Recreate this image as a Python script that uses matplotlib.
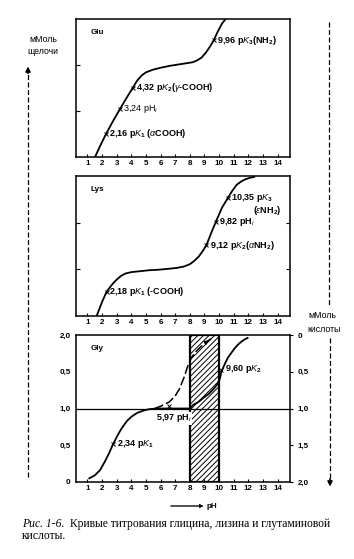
import matplotlib
matplotlib.use("Agg")
import matplotlib.pyplot as plt
from matplotlib.lines import Line2D
from matplotlib.patches import Rectangle

# values (pH on x, equivalents on y)
ph_ticks = list(range(1, 15))

glu_ph = [1.52, 1.9, 2.27, 2.75, 3.22, 3.65, 4.11, 4.4, 4.7, 5.0, 5.5, 6.0, 6.6, 7.2, 7.8,
          8.2, 8.5, 8.8, 9.1, 9.4, 9.64, 9.9, 10.2, 10.45]
glu_eq = [0.0, 0.26, 0.5, 0.78, 1.04, 1.27, 1.51, 1.66, 1.77, 1.84, 1.90, 1.94, 1.98, 2.01, 2.04,
          2.06, 2.10, 2.16, 2.27, 2.41, 2.54, 2.72, 2.90, 3.0]
glu_marks = [(2.27, 0.5), (3.22, 1.04), (4.11, 1.51), (9.64, 2.54)]

lys_ph = [1.63, 2.0, 2.31, 2.7, 3.0, 3.3, 3.6, 4.0, 4.6, 5.2, 5.8, 6.5, 7.1, 7.6, 8.0, 8.3,
          8.6, 8.9, 9.14, 9.45, 9.77, 10.2, 10.6, 10.9, 11.2, 11.5, 11.8, 12.1, 12.4]
lys_eq = [0.0, 0.3, 0.52, 0.68, 0.78, 0.86, 0.91, 0.94, 0.96, 0.98, 0.99, 1.01, 1.03, 1.06,
          1.11, 1.18, 1.27, 1.40, 1.52, 1.77, 2.01, 2.32, 2.53, 2.68, 2.81, 2.88, 2.93, 2.96, 2.98]
lys_marks = [(2.31, 0.52), (9.14, 1.52), (9.77, 2.01), (10.6, 2.53)]

gly_low_ph = [1.13, 1.5, 1.86, 2.2, 2.5, 2.77, 3.05, 3.34, 3.7, 4.02, 4.4, 4.81, 5.2, 5.72, 8.0]
gly_low_eq = [0.05, 0.09, 0.16, 0.28, 0.40, 0.52, 0.63, 0.73, 0.83, 0.89, 0.94, 0.97, 0.99, 1.0, 1.0]
gly_up_ph = [8.0, 8.23, 8.6, 8.9, 9.3, 9.6, 9.85, 10.05, 10.16, 10.4, 10.6, 10.85, 11.07, 11.3,
             11.53, 11.75, 11.95]
gly_up_eq = [1.0, 1.05, 1.09, 1.14, 1.20, 1.26, 1.32, 1.40, 1.50, 1.61, 1.69, 1.76, 1.82, 1.87,
             1.91, 1.94, 1.96]
gly_back_ph = [5.6, 6.0, 6.6, 7.0, 7.3, 7.6, 7.85, 8.1, 8.4, 8.7, 9.1, 9.45]
gly_back_eq = [1.0, 1.03, 1.09, 1.17, 1.27, 1.42, 1.57, 1.69, 1.77, 1.83, 1.90, 1.95]
gly_marks = [(2.77, 0.52), (10.16, 1.52), (6.6, 1.03)]
gly_left_labels = ["0", "0,5", "1,0", "0,5", "2,0"]
gly_right_labels = ["2,0", "1,5", "1,0", "0,5", "0"]
gly_levels = [0, 0.5, 1.0, 1.5, 2.0]
band = (8, 10)

plt.rcParams["font.family"] = ["Liberation Sans", "DejaVu Sans"]
plt.rcParams["mathtext.fontset"] = "custom"
plt.rcParams["mathtext.rm"] = "Liberation Sans:bold"
plt.rcParams["mathtext.it"] = "Liberation Sans:italic"
plt.rcParams["mathtext.bf"] = "Liberation Sans:bold"
plt.rcParams["hatch.linewidth"] = 0.7

W, H = 354, 559
fig = plt.figure(figsize=(W / 100, H / 100), dpi=100)


def px(x0, y0, x1, y1):
    return [x0 / W, 1 - y1 / H, (x1 - x0) / W, (y1 - y0) / H]


def fx(x):
    return x / W


def fy(y):
    return 1 - y / H


def setup(ax, ymax):
    ax.set_xlim(0.22, 14.85)
    ax.set_ylim(0, ymax)
    for s in ax.spines.values():
        s.set_linewidth(1.1)
    ax.set_xticks(ph_ticks)
    ax.set_xticklabels([str(t) for t in ph_ticks], fontsize=5.8, fontweight="bold")
    ax.tick_params(axis="x", direction="in", length=2.5, width=0.8, pad=2)
    ax.tick_params(axis="y", direction="in", length=3, width=0.8)


curve = dict(color="black", lw=1.3)
mk = dict(marker="x", ls="none", color="black", ms=2.5, mew=0.7)
fs = 6.5

# Glu
ax1 = fig.add_axes(px(76, 19, 290, 157))
setup(ax1, 3)
ax1.set_yticks([1, 2])
ax1.set_yticklabels([])
ax1.plot(glu_ph, glu_eq, **curve)
ax1.plot(*zip(*glu_marks), **mk)
ax1.text(0.07, 0.93, "Glu", transform=ax1.transAxes, fontsize=5.8, fontweight="bold", va="top")
ax1.text(9.85, 2.54, r"9,96 p$\mathit{K}_3$(NH$_2$)", fontsize=fs, fontweight="bold", va="center")
ax1.text(4.35, 1.51, r"4,32 p$\mathit{K}_2$($\gamma$-COOH)", fontsize=fs, fontweight="bold", va="center")
ax1.text(3.45, 1.04, r"3,24 pH$_i$", fontsize=fs, va="center")
ax1.text(2.5, 0.5, r"2,16 p$\mathit{K}_1$ ($\alpha$COOH)", fontsize=fs, fontweight="bold", va="center")

# Lys
ax2 = fig.add_axes(px(76, 176, 290, 316))
setup(ax2, 3)
ax2.set_yticks([1, 2])
ax2.set_yticklabels([])
ax2.tick_params(axis="y", right=True)
ax2.plot(lys_ph, lys_eq, **curve)
ax2.plot(*zip(*lys_marks), **mk)
ax2.text(0.07, 0.93, "Lys", transform=ax2.transAxes, fontsize=5.8, fontweight="bold", va="top")
ax2.text(10.8, 2.53, r"10,35 p$\mathit{K}_3$", fontsize=fs, fontweight="bold", va="center")
ax2.text(12.3, 2.27, r"($\epsilon$NH$_2$)", fontsize=fs, fontweight="bold", va="center")
ax2.text(10.0, 2.01, r"9,82 pH$_i$", fontsize=fs, fontweight="bold", va="center")
ax2.text(9.35, 1.52, r"9,12 p$\mathit{K}_2$($\alpha$NH$_2$)", fontsize=fs, fontweight="bold", va="center")
ax2.text(2.5, 0.52, r"2,18 p$\mathit{K}_1$ (-COOH)", fontsize=fs, fontweight="bold", va="center")

# Gly
ax3 = fig.add_axes(px(76, 335, 290, 482))
setup(ax3, 2)
ax3.set_yticks(gly_levels)
ax3.set_yticklabels(gly_left_labels, fontsize=5.8, fontweight="bold")
ax3.tick_params(axis="y", length=0, pad=4)
ax3r = ax3.twinx()
ax3r.set_ylim(0, 2)
ax3r.set_yticks(gly_levels)
ax3r.set_yticklabels(gly_right_labels, fontsize=5.8, fontweight="bold")
ax3r.tick_params(axis="y", direction="out", length=2.5, width=0.8, pad=3)
for s in ax3r.spines.values():
    s.set_visible(False)
ax3.add_patch(Rectangle((band[0], 0), band[1] - band[0], 2, fill=False, hatch="//////",
                        lw=1.6, edgecolor="black"))
ax3.axhline(1.0, color="black", lw=0.9)
ax3.plot(gly_low_ph, gly_low_eq, **curve)
ax3.plot(gly_up_ph, gly_up_eq, **curve)
ax3.plot(gly_back_ph, gly_back_eq, color="black", lw=1.1, ls=(0, (6, 2)))
ax3.annotate("", xy=(gly_back_ph[-1], gly_back_eq[-1]), xytext=(gly_back_ph[-2], gly_back_eq[-2]),
             arrowprops=dict(arrowstyle="-|>", color="black", lw=0.8, mutation_scale=6))
ax3.plot(*zip(*gly_marks), **mk)
ax3.text(0.07, 0.93, "Gly", transform=ax3.transAxes, fontsize=5.8, fontweight="bold", va="top")
ax3.text(3.0, 0.52, r"2,34 p$\mathit{K}_1$", fontsize=fs, fontweight="bold", va="center")
ax3.text(10.4, 1.54, r"9,60 p$\mathit{K}_2$", fontsize=fs, fontweight="bold", va="center")
ax3.text(6.9, 0.95, r"5,97 pH$_i$", fontsize=fs, fontweight="bold", va="top", ha="center",
         bbox=dict(facecolor="white", edgecolor="none", pad=0.3))

# side arrows and units
kw = dict(transform=fig.transFigure, color="black", lw=0.9, ls=(0, (4, 2)))
fig.add_artist(Line2D([fx(28), fx(28)], [fy(477), fy(72)], **kw))
fig.add_artist(Line2D([fx(329), fx(329)], [fy(22), fy(306)], **kw))
fig.add_artist(Line2D([fx(330), fx(330)], [fy(338), fy(478)], **kw))
arr = dict(arrowstyle="-|>", color="black", lw=0.9, mutation_scale=7)
fig.add_artist(plt.annotate("", xy=(fx(28), fy(64)), xytext=(fx(28), fy(76)),
                            xycoords="figure fraction", arrowprops=arr))
fig.add_artist(plt.annotate("", xy=(fx(330), fy(489)), xytext=(fx(330), fy(476)),
                            xycoords="figure fraction", arrowprops=arr))
fig.text(fx(43), fy(39), "мМоль", fontsize=6.3, ha="center", va="center")
fig.text(fx(43), fy(52), "щелочи", fontsize=6.3, ha="center", va="center")
fig.text(fx(322), fy(316), "мМоль", fontsize=6.3, ha="center", va="center")
fig.text(fx(324), fy(329), "кислоты", fontsize=6.3, ha="center", va="center")

# pH arrow under the bottom panel
fig.add_artist(plt.annotate("", xy=(fx(206), fy(506)), xytext=(fx(168), fy(506)),
                            xycoords="figure fraction",
                            arrowprops=dict(arrowstyle="-|>", color="black", lw=0.6,
                                            mutation_scale=5)))
fig.text(fx(207), fy(506), "pH", fontsize=5.8, fontweight="bold", va="center")

# caption
cap = dict(fontsize=8.4, family="Liberation Serif", va="baseline")
fig.text(fx(22), fy(527), "Рис. 1-6.", style="italic", **cap)
fig.text(fx(70), fy(527), "Кривые титрования глицина, лизина и глутаминовой", **cap)
fig.text(fx(22), fy(539), "кислоты.", **cap)

fig.savefig("out.png", dpi=100)
